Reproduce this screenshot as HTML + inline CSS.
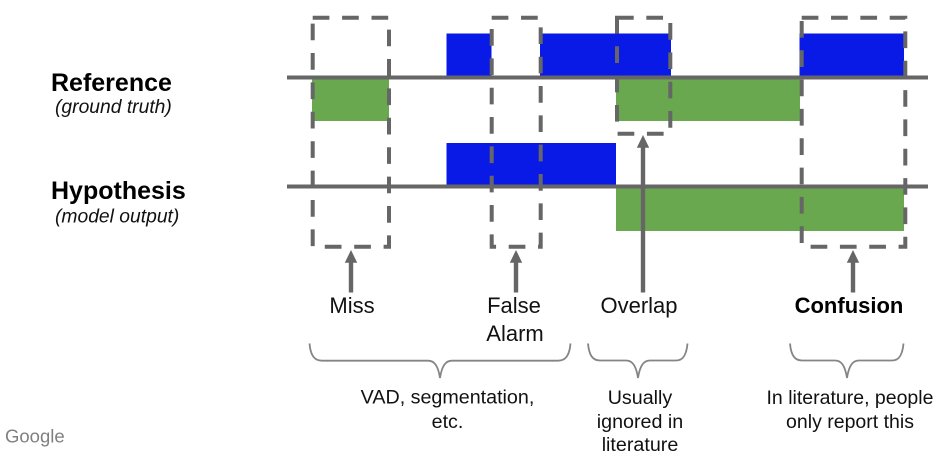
<!DOCTYPE html>
<html>
<head>
<meta charset="utf-8">
<style>
html,body{margin:0;padding:0;background:#fff;width:941px;height:457px;overflow:hidden}
svg{display:block}
text{font-family:"Liberation Sans",Arial,sans-serif;fill:#111}
.c{text-anchor:middle}
.l{font-size:22px}
.s{font-size:19.7px}
.h{font-size:25px;font-weight:bold;fill:#000}
.i{font-size:19.3px;font-style:italic}
.d{fill:none;stroke:#666;stroke-width:4;stroke-dasharray:16.7 12.63}
.b{fill:none;stroke:#858585;stroke-width:1.8}
</style>
</head>
<body>
<svg width="941" height="457" viewBox="0 0 941 457" xmlns="http://www.w3.org/2000/svg">
<rect width="941" height="457" fill="#fff"/>
<g fill="#0a1ae6">
<rect x="446.5" y="33.5" width="45" height="43"/>
<rect x="540" y="33.5" width="131" height="43"/>
<rect x="799.5" y="33.5" width="104.5" height="43"/>
<rect x="446.5" y="143" width="169.5" height="43"/>
</g>
<g fill="#6aa84f">
<rect x="312" y="78" width="77" height="43"/>
<rect x="616" y="78" width="184" height="43"/>
<rect x="616" y="187" width="288" height="44"/>
</g>
<g fill="#666">
<rect x="287" y="75.5" width="641" height="4"/>
<rect x="287" y="184.5" width="641" height="4"/>
</g>
<rect class="d" style="stroke-dasharray:16.7 12.7" x="312.7" y="17.7" width="76.3" height="229"/>
<rect class="d" x="491.7" y="17.7" width="49" height="229"/>
<rect class="d" x="617" y="17.7" width="53.3" height="116"/>
<rect class="d" x="801.7" y="17.7" width="103.6" height="229"/>
<g fill="#666">
<rect x="348.8" y="260" width="4.4" height="32.5"/><path d="M351 250l6.2 12.7h-12.4z"/>
<rect x="513.8" y="260" width="4.4" height="32.5"/><path d="M516 250l6.2 12.7h-12.4z"/>
<rect x="640.8" y="145" width="4.4" height="147.5"/><path d="M643 135l6.2 12.7h-12.4z"/>
<rect x="850.8" y="260" width="4.4" height="32.5"/><path d="M853 250l6.2 12.7h-12.4z"/>
</g>
<path class="b" d="M309.5 343.5C310.5 355 314 360.7 322 360.7H428C434 360.7 438 365 440 378C442 365 446 360.7 452 360.7H558C566 360.7 569.5 355 570.5 343.5"/>
<path class="b" d="M588 343.5C589 355 592.5 360.5 600 360.5H626C632 360.5 636 365 638 378C640 365 644 360.5 650 360.5H676C683 360.5 686.5 355 687.5 343.5"/>
<path class="b" d="M790 343.5C791 355 794.5 360.5 802 360.5H835C841 360.5 845 365 847 378C849 365 853 360.5 859 360.5H892C899 360.5 902.5 355 903.5 343.5"/>
<text class="h" x="51" y="91">Reference</text>
<text class="i" x="55" y="113">(ground truth)</text>
<text class="h" x="51" y="199">Hypothesis</text>
<text class="i" x="55" y="222.5">(model output)</text>
<text class="l c" x="352" y="313">Miss</text>
<text class="l c" x="514" y="313">False</text>
<text class="l c" x="515" y="341">Alarm</text>
<text class="l c" x="639" y="313">Overlap</text>
<text class="l c" x="849" y="313" style="font-weight:bold;fill:#000">Confusion</text>
<text class="s c" x="447.5" y="403.5">VAD, segmentation,</text>
<text class="s c" x="447.5" y="428">etc.</text>
<text class="s c" x="640" y="404">Usually</text>
<text class="s c" x="640" y="428">ignored in</text>
<text class="s c" x="640" y="451">literature</text>
<text class="s c" x="850" y="404" style="font-size:19.5px">In literature, people</text>
<text class="s c" x="850" y="428" style="font-size:19.5px">only report this</text>
<text x="5" y="442.5" style="font-size:18.5px;fill:#808080">Google</text>
</svg>
</body>
</html>
